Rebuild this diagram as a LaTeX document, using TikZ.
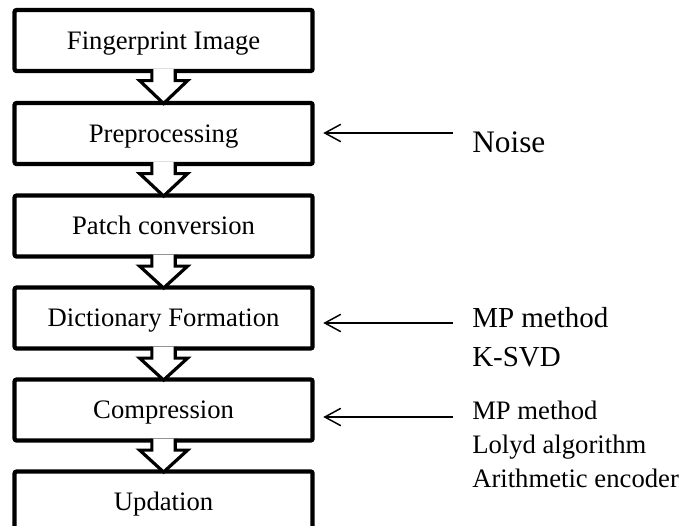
\documentclass[tikz,border=0pt]{standalone}
\usepackage{fontspec}
\setmainfont{Liberation Serif}
\usetikzlibrary{arrows.meta}

\tikzset{
  stagebox/.style={draw, line width=3.2pt, rounded corners=1.5pt, fill=white,
    minimum width=223.5pt, minimum height=45.75pt, inner sep=0pt,
    text height=14.75pt, text depth=2pt, font=\fontsize{20}{24}\selectfont},
  blockarrow/.style={draw, fill=white, line width=2.4pt, line join=miter},
  sidearrow/.style={line width=1.1pt, -{Straight Barb[length=12pt,width=13pt]}, shorten >=6.4pt},
  listtext/.style={anchor=base west, inner sep=0pt, align=left}
}
\newcommand{\blockarrow}[2]{%
  \draw[blockarrow] ([xshift=-8.8pt,yshift=3pt]#1.south) -- ++(0,-8.6pt) -- ++(-9.2pt,0)
    -- ([yshift=-2pt]#2.north) -- ([xshift=18pt,yshift=-5.6pt]#1.south) -- ++(-9.2pt,0)
    -- ([xshift=8.8pt,yshift=3pt]#1.south);
}

\begin{document}
\begin{tikzpicture}[x=0.75pt, y=-0.75pt]
\useasboundingbox (0,0) rectangle (681,525);
% stages
\node[stagebox] (fpimage) at (163.6,40.5) {Fingerprint Image};
\node[stagebox] (preproc) at (163.6,133.5) {Preprocessing};
\node[stagebox] (patch) at (163.6,226) {Patch conversion};
\node[stagebox] (dict) at (163.6,318) {Dictionary Formation};
\node[stagebox] (compress) at (163.6,410) {Compression};
\node[stagebox] (update) at (163.6,502) {Updation};
% hollow arrows between stages
\blockarrow{fpimage}{preproc}
\blockarrow{preproc}{patch}
\blockarrow{patch}{dict}
\blockarrow{dict}{compress}
\blockarrow{compress}{update}
% inputs on the right (base = last line)
\node[listtext, font=\fontsize{23.5}{28}\selectfont] (noise) at (472,152) {Noise};
\node[listtext, font=\fontsize{21.75}{29}\selectfont] (dictlist) at (472,366) {MP method\\K-SVD};
\node[listtext, font=\fontsize{20}{25.5}\selectfont] (compresslist) at (472,487) {MP method\\Lolyd algorithm\\Arithmetic encoder};
\coordinate (noisetail) at (453,133);
\coordinate (dicttail) at (453,323);
\coordinate (compresstail) at (453,417);
\draw[sidearrow] (noisetail) -- (noisetail -| preproc.east);
\draw[sidearrow] (dicttail) -- (dicttail -| dict.east);
\draw[sidearrow] (compresstail) -- (compresstail -| compress.east);
\end{tikzpicture}
\end{document}
